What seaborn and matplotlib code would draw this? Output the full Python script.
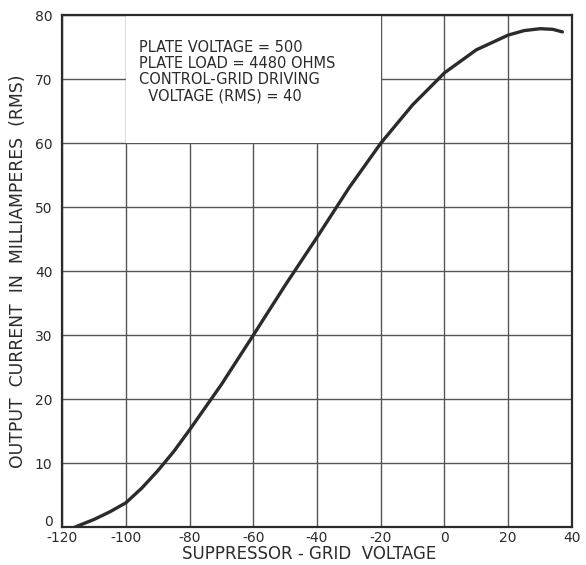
import matplotlib
matplotlib.use("Agg")
import matplotlib.pyplot as plt
import matplotlib.transforms as mtransforms
import seaborn as sns
import pandas as pd
from matplotlib.patches import Rectangle

# values
grid_voltage = [-116, -110, -105, -100, -95, -90, -85, -80, -70, -60, -50, -40,
                -30, -20, -10, 0, 10, 20, 25, 30, 34, 37]
output_ma = [0.0, 1.2, 2.4, 3.8, 6.1, 8.8, 11.8, 15.2, 22.3, 30.0, 37.8, 45.3,
             53.0, 60.0, 66.0, 71.0, 74.6, 76.9, 77.6, 77.9, 77.8, 77.4]
x_ticks = [-120, -100, -80, -60, -40, -20, 0, 20, 40]
y_ticks = [0, 10, 20, 30, 40, 50, 60, 70, 80]
note = "PLATE VOLTAGE = 500\nPLATE LOAD = 4480 OHMS\nCONTROL-GRID DRIVING\n  VOLTAGE (RMS) = 40"

df = pd.DataFrame({"v": grid_voltage, "ma": output_ma})

sns.set_style("white")
plt.rcParams['font.family'] = ['DejaVu Sans']
ink = "#2b2b2b"

fig = plt.figure(figsize=(5.86, 5.65), dpi=100)
ax = fig.add_axes([0.106, 0.067, 0.870, 0.906])

sns.lineplot(data=df, x="v", y="ma", ax=ax, color=ink, linewidth=2.4, zorder=3)

ax.set_xlim(-120, 40)
ax.set_ylim(0, 80)
ax.set_xticks(x_ticks)
ax.set_yticks(y_ticks)
ax.set_xticklabels([str(t) for t in x_ticks], fontsize=10, color=ink)
ax.set_yticklabels([str(t) for t in y_ticks], fontsize=10, color=ink)
ax.tick_params(axis="x", length=0, pad=3)
ax.tick_params(axis="y", length=0, pad=7)
# the "0" sits a little higher than its grid line
lab0 = ax.get_yticklabels()[0]
lab0.set_transform(lab0.get_transform() + mtransforms.ScaledTranslation(0, 5 / 72, fig.dpi_scale_trans))

ax.set_axisbelow(True)
ax.grid(True, color="#555555", linewidth=1.0)
for s in ax.spines.values():
    s.set_color(ink)
    s.set_linewidth(1.6)

ax.set_xlabel("SUPPRESSOR - GRID  VOLTAGE", fontsize=12, color=ink)
ax.xaxis.set_label_coords(0.484, -0.053, transform=ax.transAxes)
ax.xaxis.label.set_va("center")
ax.set_ylabel("OUTPUT  CURRENT  IN  MILLIAMPERES  (RMS)", fontsize=12.4, color=ink)
ax.yaxis.set_label_coords(-0.068, 0.5, transform=ax.transAxes)

# white box hiding the grid behind the note
ax.add_patch(Rectangle((-100, 60), 80, 20, facecolor="white", edgecolor="none", zorder=1))
ax.text(-96, 76.2, note, fontsize=10.5, color=ink, va="top", ha="left",
        linespacing=1.12, zorder=2)

fig.savefig("out.png", dpi=100)
